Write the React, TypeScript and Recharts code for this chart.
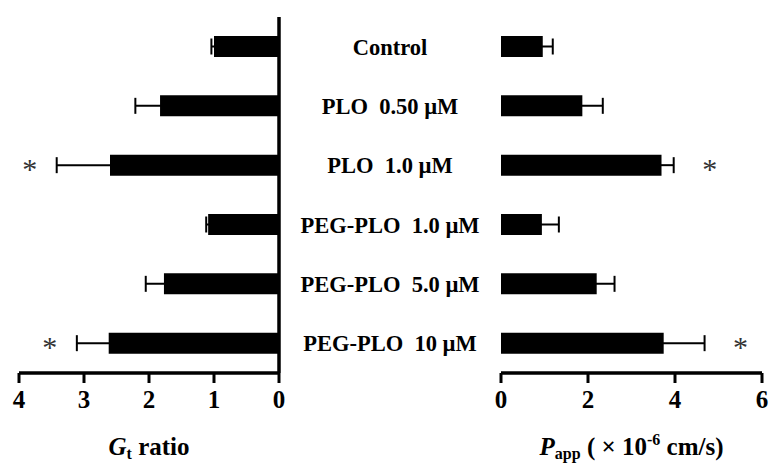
import { Bar, BarChart, ErrorBar, LabelList, XAxis, YAxis } from 'recharts';

const categories = [
  'Control',
  'PLO  0.50 µM',
  'PLO  1.0 µM',
  'PEG-PLO  1.0 µM',
  'PEG-PLO  5.0 µM',
  'PEG-PLO  10 µM',
];
const gtRatio = [1.0, 1.83, 2.6, 1.09, 1.77, 2.62];
const gtErr = [0.04, 0.38, 0.82, 0.03, 0.28, 0.49];
const gtSig = [false, false, true, false, false, true];
const papp = [0.96, 1.87, 3.69, 0.94, 2.2, 3.74];
const pappErr = [0.23, 0.47, 0.28, 0.39, 0.41, 0.94];
const pappSig = [false, false, true, false, false, true];
const gtTicks = [0, 1, 2, 3, 4];
const pappTicks = [0, 2, 4, 6];

const rows = categories.map((name, i) => ({
  name,
  gt: gtRatio[i],
  gtErr: gtErr[i],
  papp: papp[i],
  pappErr: pappErr[i],
}));

const FONT = 'Liberation Serif, Times New Roman, serif';
const axisLine = { stroke: '#000', strokeWidth: 3.5 };
const tickLine = { stroke: '#000', strokeWidth: 3 };

// star beyond the end of the error bar; side = -1 for the left (reversed) chart
function starLabel(values: number[], errs: number[], sig: boolean[], side: number, gap: number) {
  return (props: any) => {
    const i = categories.indexOf(props.value);
    if (i < 0 || !sig[i]) return null;
    const w = Math.abs(props.width);
    const x0 = Math.min(props.x, props.x + props.width);
    const end = side < 0 ? x0 : x0 + w;
    const px = w / values[i];
    const sx = end + side * (errs[i] * px + gap);
    const cy = props.y + props.height / 2;
    return (
      <text x={sx} y={cy + 14} textAnchor="middle" fontFamily={FONT} fontSize={30} fill="#333">
        *
      </text>
    );
  };
}

function NumberTick(props: any) {
  const { x, y, payload } = props;
  return (
    <text
      x={x}
      y={y + 19}
      textAnchor="middle"
      style={{ fontFamily: FONT, fontSize: 25, fontWeight: 700, fill: '#000' }}
    >
      {payload ? payload.value : ''}
    </text>
  );
}

function CategoryTick(props: any) {
  return (
    <text
      x={props.x + 111}
      y={props.y}
      dy={8}
      textAnchor="middle"
      style={{ whiteSpace: 'pre' }}
      fontFamily={FONT}
      fontSize={22.5}
      fontWeight="bold"
      fill="#000"
    >
      {props.payload.value}
    </text>
  );
}

function GtTitle(props: any) {
  const vb = props.viewBox;
  return (
    <text x={vb.x + vb.width / 2} y={vb.y + 82} textAnchor="middle" fontFamily={FONT} fontSize={25} fontWeight="bold" fill="#000">
      <tspan fontStyle="italic">G</tspan>
      <tspan fontSize={16} dy={4}>t</tspan>
      <tspan dy={-4}> ratio</tspan>
    </text>
  );
}

function PappTitle(props: any) {
  const vb = props.viewBox;
  return (
    <text x={vb.x + vb.width / 2} y={vb.y + 82} textAnchor="middle" fontFamily={FONT} fontSize={25} fontWeight="bold" fill="#000" style={{ whiteSpace: 'pre' }}>
      <tspan fontStyle="italic">P</tspan>
      <tspan fontSize={16} dy={4}>app</tspan>
      <tspan dy={-4}> ( × 10</tspan>
      <tspan fontSize={16} dy={-10}>-6</tspan>
      <tspan dy={10}> cm/s)</tspan>
    </text>
  );
}

export default function App() {
  return (
    <div style={{ position: 'absolute', left: 0, top: 0, width: 771, height: 463, background: '#fff' }}>
      <div style={{ position: 'absolute', left: 0, top: 0 }}>
        <BarChart width={501} height={463} data={rows} layout="vertical" margin={{ top: 17, right: 0, bottom: 0, left: 19 }}>
          <XAxis
            type="number"
            domain={[0, 4]}
            ticks={gtTicks}
            reversed
            axisLine={axisLine}
            tickLine={tickLine}
            tickSize={10}
            tickMargin={6}
            tick={<NumberTick />}
            height={90}
            label={{ content: GtTitle }}
          />
          <YAxis
            type="category"
            dataKey="name"
            orientation="right"
            width={222}
            axisLine={axisLine}
            tickLine={false}
            tickSize={0}
            tickMargin={0}
            tick={CategoryTick}
          />
          <Bar dataKey="gt" fill="#000" barSize={21} isAnimationActive={false}>
            <ErrorBar dataKey="gtErr" direction="x" width={8} stroke="#000" strokeWidth={2} />
            <LabelList dataKey="name" content={starLabel(gtRatio, gtErr, gtSig, -1, 27)} />
          </Bar>
        </BarChart>
      </div>
      <div style={{ position: 'absolute', left: 480, top: 0 }}>
        <BarChart width={291} height={463} data={rows} layout="vertical" margin={{ top: 17, right: 9, bottom: 0, left: 21 }}>
          <XAxis
            type="number"
            domain={[0, 6]}
            ticks={pappTicks}
            axisLine={axisLine}
            tickLine={tickLine}
            tickSize={10}
            tickMargin={6}
            tick={<NumberTick />}
            height={90}
            label={{ content: PappTitle }}
          />
          <YAxis type="category" dataKey="name" width={0} axisLine={axisLine} tickLine={false} tick={false} />
          <Bar dataKey="papp" fill="#000" barSize={21} isAnimationActive={false}>
            <ErrorBar dataKey="pappErr" direction="x" width={8} stroke="#000" strokeWidth={2} />
            <LabelList dataKey="name" content={starLabel(papp, pappErr, pappSig, 1, 36)} />
          </Bar>
        </BarChart>
      </div>
    </div>
  );
}
